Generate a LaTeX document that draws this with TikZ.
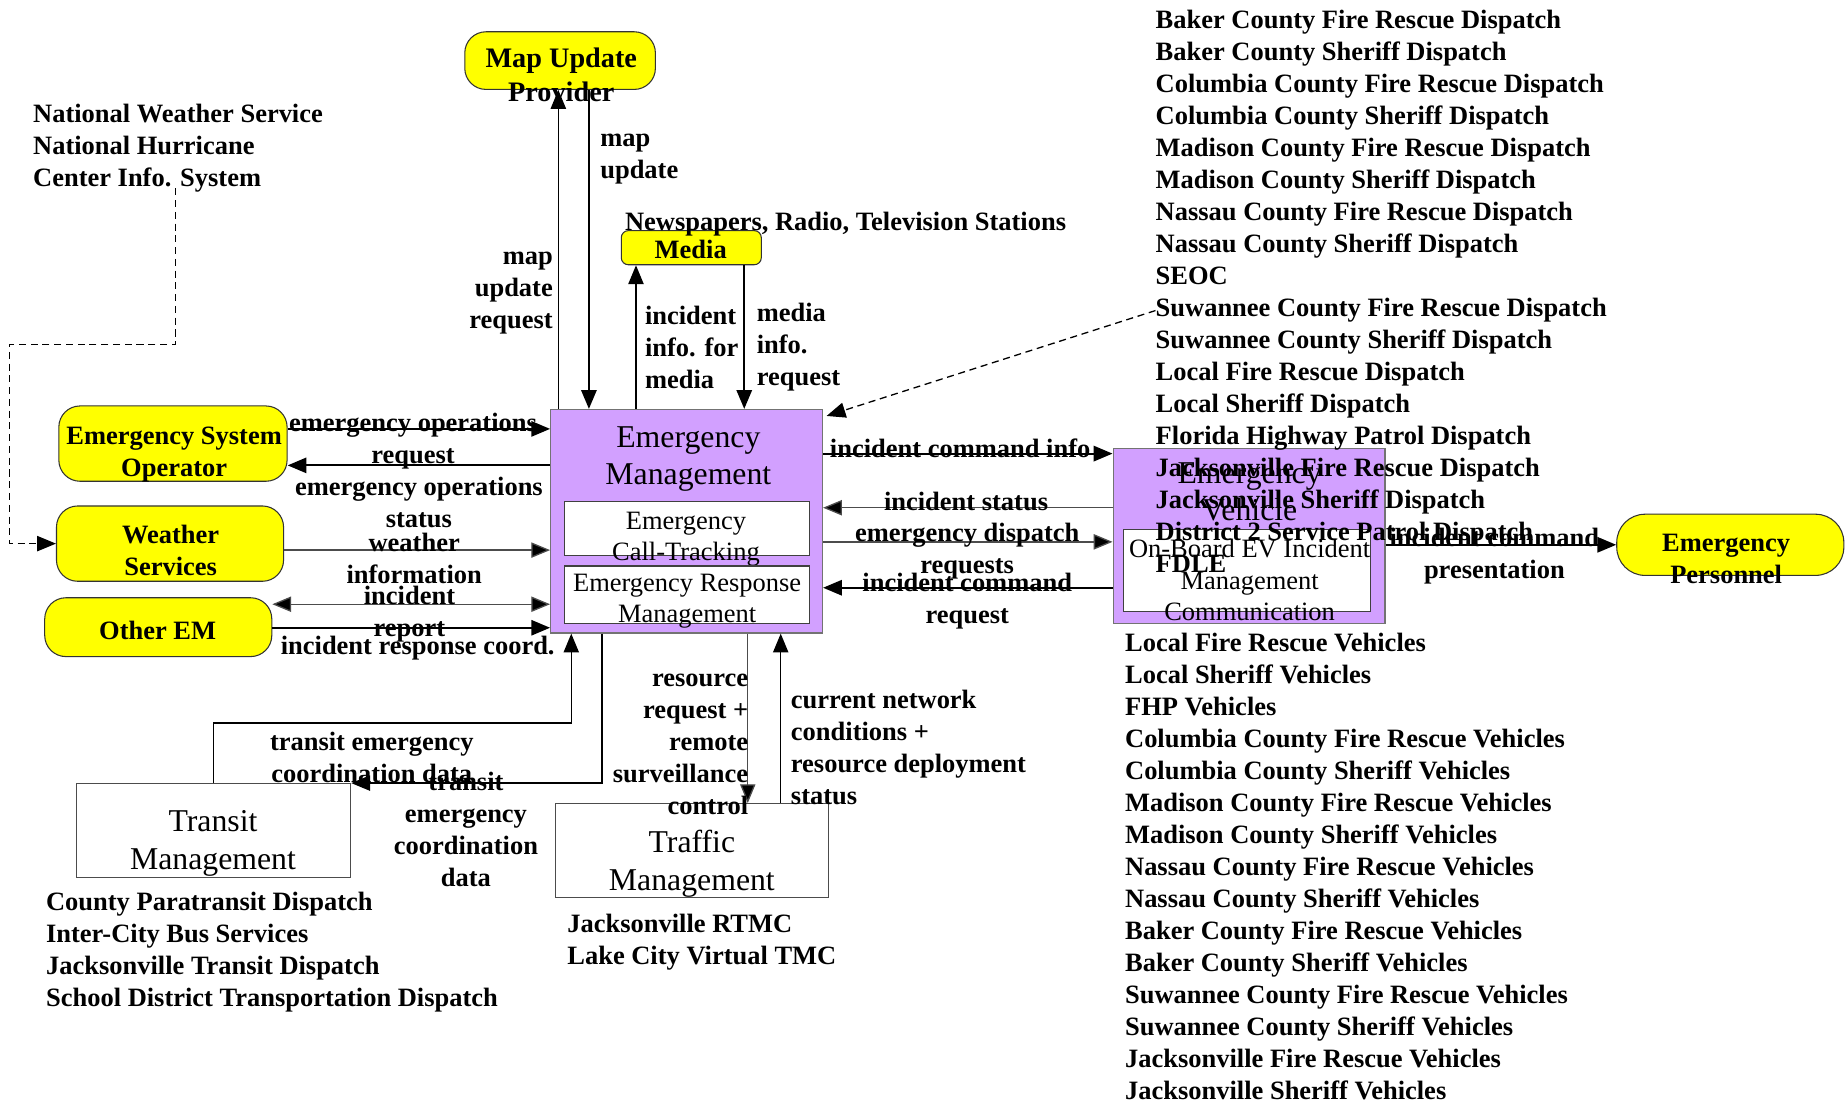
\documentclass[tikz,border=0pt]{standalone}
\usepackage{fontspec}
\setmainfont{Liberation Serif}
\usetikzlibrary{arrows.meta,calc}
\definecolor{emyellow}{RGB}{255,255,0}
\definecolor{empurple}{RGB}{210,160,255}
\begin{document}
\begin{tikzpicture}[x=1pt,y=-1pt,
  lbl/.style={font=\fontsize{22.5}{27.2}\selectfont\bfseries, align=center, inner sep=0pt},
  lbll/.style={lbl, align=left},
  lblr/.style={lbl, align=right},
  listtxt/.style={font=\fontsize{22.5}{27.2}\selectfont\bfseries, anchor=base west, inner sep=0pt},
  ybox/.style={draw=black!80, line width=0.9pt, fill=emyellow, rounded corners=18pt, inner sep=0pt},
  ytxt/.style={font=\fontsize{22.5}{27}\selectfont\bfseries, align=center, inner sep=0pt},
  pbox/.style={draw=black!55, line width=1pt, fill=empurple, inner sep=0pt},
  wbox/.style={draw=black!75, line width=1pt, fill=white, inner sep=0pt},
  ttl/.style={font=\fontsize{27}{32}\selectfont, align=center, inner sep=0pt},
  stxt/.style={font=\fontsize{22.5}{26.5}\selectfont, align=center, inner sep=0pt},
  arr/.style={line width=1.8pt, -{Triangle[length=16pt,width=13pt]}},
  tarr/.style={line width=1.1pt, draw=black!70, -{Triangle[length=16pt,width=13pt,fill=black]}},
  dsh/.style={line width=1.1pt, dash pattern=on 6pt off 4pt}
]
\useasboundingbox (0,0) rectangle (1568,937);

% ---------- boxes ----------
\node[ybox, minimum width=162, minimum height=49] (mup) at (476,51.5) {};
\node[ytxt, font=\fontsize{24}{29}\selectfont\bfseries] (mup-t) at (477,63.5) {Map Update\\Provider};

\node[ybox, rounded corners=6pt, minimum width=119, minimum height=29] (media) at (587.5,210.5) {};
\node[ytxt] (media-t) at (587,212) {Media};

\node[ybox, minimum width=194, minimum height=64] (eso) at (147,377) {};
\node[ytxt] (eso-t) at (148,386) {Emergency System\\Operator};

\node[ybox, minimum width=193, minimum height=64] (ws) at (144.5,462) {};
\node[ytxt] (ws-t) at (145,468) {Weather\\Services};

\node[ybox, minimum width=193, minimum height=50] (oem) at (134.5,533) {};
\node[ytxt] (oem-t) at (134,536) {Other EM};

\node[ybox, rounded corners=24pt, minimum width=193, minimum height=52] (ep) at (1470.5,463) {};
\node[ytxt] (ep-t) at (1467,475) {Emergency\\Personnel};

\node[pbox, minimum width=231, minimum height=190] (em) at (583.5,443) {};
\node[ttl] (em-t) at (585,390) {Emergency\\Management};
\node[wbox, minimum width=208, minimum height=46] (ect) at (584,449) {};
\node[stxt] (ect-t) at (583,458) {Emergency\\Call-Tracking};
\node[wbox, minimum width=208, minimum height=49] (erm) at (584,505.5) {};
\node[stxt] (erm-t) at (584,511) {Emergency Response\\Management};

\node[pbox, minimum width=231, minimum height=149] (ev) at (1061.5,455.5) {};
\node[ttl] (ev-t) at (1062,418) {Emergency\\Vehicle};
\node[wbox, minimum width=210, minimum height=70] (evs) at (1060,485) {};
\node[stxt] (evs-t) at (1062,493) {On-Board EV Incident\\Management\\Communication};

\node[wbox, draw=black!70, minimum width=233, minimum height=80] (transit) at (181.5,706) {};
\node[ttl] (transit-t) at (181,717) {Transit\\Management};

\node[wbox, draw=black!70, minimum width=232, minimum height=80] (traffic) at (588,723) {};
\node[ttl] (traffic-t) at (588,734) {Traffic\\Management};

% ---------- attachment points ----------
\coordinate (em-t1) at ($(em.north west)+(7,0)$);
\coordinate (em-t2) at ($(em.north west)+(33,0)$);
\coordinate (em-t3) at ($(em.north west)+(73,0)$);
\coordinate (em-t4) at ($(em.north west)+(165,0)$);
\coordinate (em-l1) at ($(em.north west)+(0,17)$);
\coordinate (em-l2) at ($(em.north west)+(0,48)$);
\coordinate (em-l3) at ($(em.north west)+(0,120)$);
\coordinate (em-l4) at ($(em.north west)+(0,166)$);
\coordinate (em-l5) at ($(em.north west)+(0,186)$);
\coordinate (em-b1) at ($(em.south west)+(18,0)$);
\coordinate (em-b2) at ($(em.south west)+(44,0)$);
\coordinate (em-b3) at ($(em.south west)+(168,0)$);
\coordinate (em-b4) at ($(em.south west)+(196,0)$);
\coordinate (em-r1) at ($(em.north east)+(0,38)$);
\coordinate (em-r2) at ($(em.north east)+(0,84)$);
\coordinate (em-r3) at ($(em.north east)+(0,113)$);
\coordinate (em-r4) at ($(em.north east)+(0,152)$);
\coordinate (tk) at ($(em-b1)+(0,76)$);

% ---------- connectors ----------
\draw[tarr, draw=black] (em-t1) -- (em-t1 |- mup.south);
\draw[arr] (em-t2 |- mup.south) -- (em-t2);
\draw[tarr, draw=black] (em-t3) -- (em-t3 |- media.south);
\draw[arr] (em-t4 |- media.south) -- (em-t4);

\draw[arr] (eso.east |- em-l1) -- (em-l1);
\draw[arr] (em-l2) -- (eso.east |- em-l2);
\draw[tarr] (ws.east |- em-l3) -- (em-l3);
\draw[tarr, {Triangle[length=16pt,width=13pt,fill=black]}-{Triangle[length=16pt,width=13pt,fill=black]}] (oem.east |- em-l4) -- (em-l4);
\draw[arr] (oem.east |- em-l5) -- (em-l5);

\draw[tarr, draw=black] (transit.north) |- (tk) -- (em-b1);
\draw[tarr, draw=black] (em-b2) |- (transit.north east);
\draw[tarr] (em-b3) -- (em-b3 |- traffic.north);
\draw[tarr, draw=black] (em-b4 |- traffic.north) -- (em-b4);

\draw[arr] (em-r1) -- (ev.west |- em-r1);
\draw[tarr] (ev.west |- em-r2) -- (em-r2);
\draw[tarr] (em-r3) -- (ev.west |- em-r3);
\draw[arr] (ev.west |- em-r4) -- (em-r4);
\draw[arr] (ev.east |- ep.west) -- (ep.west);

% ---------- lists ----------
\foreach \t [count=\i from 0] in {National Weather Service, National Hurricane, Center Info. System}
  \node[listtxt] (nws\i) at (28,{104.5+27.2*\i}) {\t};
\foreach \t [count=\i from 0] in {Baker County Fire Rescue Dispatch, Baker County Sheriff Dispatch,
  Columbia County Fire Rescue Dispatch, Columbia County Sheriff Dispatch,
  Madison County Fire Rescue Dispatch, Madison County Sheriff Dispatch,
  Nassau County Fire Rescue Dispatch, Nassau County Sheriff Dispatch, SEOC,
  Suwannee County Fire Rescue Dispatch, Suwannee County Sheriff Dispatch,
  Local Fire Rescue Dispatch, Local Sheriff Dispatch, Florida Highway Patrol Dispatch,
  Jacksonville Fire Rescue Dispatch, Jacksonville Sheriff Dispatch,
  District 2 Service Patrol Dispatch, FDLE}
  \node[listtxt] (disp\i) at (982,{24.5+27.2*\i}) {\t};
\foreach \t [count=\i from 0] in {Local Fire Rescue Vehicles, Local Sheriff Vehicles, FHP Vehicles,
  Columbia County Fire Rescue Vehicles, Columbia County Sheriff Vehicles,
  Madison County Fire Rescue Vehicles, Madison County Sheriff Vehicles,
  Nassau County Fire Rescue Vehicles, Nassau County Sheriff Vehicles,
  Baker County Fire Rescue Vehicles, Baker County Sheriff Vehicles,
  Suwannee County Fire Rescue Vehicles, Suwannee County Sheriff Vehicles,
  Jacksonville Fire Rescue Vehicles, Jacksonville Sheriff Vehicles}
  \node[listtxt] (veh\i) at (956,{553.5+27.2*\i}) {\t};
\foreach \t [count=\i from 0] in {County Paratransit Dispatch, Inter-City Bus Services,
  Jacksonville Transit Dispatch, School District Transportation Dispatch}
  \node[listtxt] (tr\i) at (39,{773.5+27.2*\i}) {\t};
\foreach \t [count=\i from 0] in {Jacksonville RTMC, Lake City Virtual TMC}
  \node[listtxt] (tm\i) at (482,{792.5+27.2*\i}) {\t};
\node[listtxt] (news) at (531,195.5) {Newspapers, Radio, Television Stations};

% dashed links
\coordinate (nws-d) at (149,160);
\coordinate (dk1) at (8,293);
\draw[dsh, -{Triangle[length=16pt,width=13pt]}] (nws-d) |- (dk1) |- (ws.west);
\draw[dsh, -{Triangle[length=16pt,width=13pt]}] (disp9.west) -- ($(em.north east)+(3,6)$);

% ---------- labels ----------
\node[lblr, anchor=east] (l-mur) at (470,249) {map\\update\\request};
\node[lbll, anchor=west] (l-mu) at (510,135) {map\\update};
\node[lbll, anchor=west] (l-iim) at (548,295) {incident\\info. for\\media};
\node[lbll, anchor=west] (l-mir) at (643,295) {media\\info.\\request};
\node[lbl] (l-eor) at (351,375) {emergency operations\\request};
\node[lbl] (l-eos) at (356,427) {emergency operations\\status};
\node[lbl] (l-wi) at (352,475) {weather\\information};
\node[lbl] (l-ir) at (348,522) {incident\\report};
\node[lbl] (l-irc) at (355,551) {incident response coord.};
\node[lbl] (l-tec1) at (316,644) {transit emergency\\coordination data};
\node[lbl] (l-tec2) at (396,705) {transit\\emergency\\coordination\\data};
\node[lblr, anchor=east] (l-rr) at (636,633) {resource\\request +\\remote\\surveillance\\control};
\node[lbll, anchor=west] (l-cn) at (672,635) {current network\\conditions +\\resource deployment\\status};
\node[lbl] (l-ici) at (816,381) {incident command info};
\node[lbl] (l-is) at (821,426) {incident status};
\node[lbl] (l-edr) at (822,468) {emergency dispatch\\requests};
\node[lbl] (l-icr) at (822,511) {incident command\\request};
\node[lbl] (l-icp) at (1270,473) {incident command\\presentation};
\end{tikzpicture}
\end{document}
